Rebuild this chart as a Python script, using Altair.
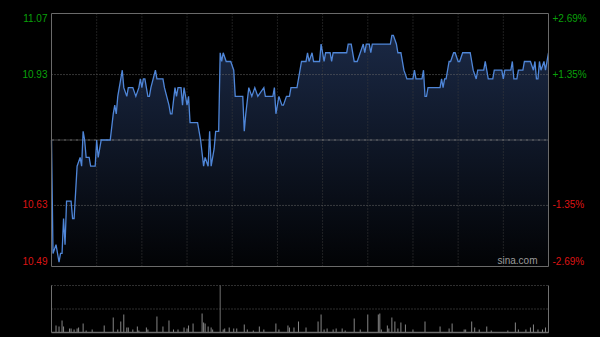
import altair as alt
import pandas as pd

# ---- data ----
minutes = [0, 1, 3, 4, 5, 6, 7, 8, 9, 10,
           13, 14, 15, 17, 19, 20, 21, 22, 23, 25,
           26, 29, 30, 31, 33, 39, 41, 42, 43, 44,
           47, 48, 50, 51, 54, 56, 58, 59, 60, 61,
           62, 64, 65, 66, 69, 70, 74, 75, 78, 79,
           80, 82, 83, 84, 86, 87, 88, 90, 91, 92,
           97, 99, 101, 102, 104, 105, 106, 108, 109, 111,
           112, 113, 114, 116, 119, 121, 122, 127, 128, 129,
           131, 133, 135, 137, 141, 142, 147, 148, 149, 151,
           153, 154, 156, 158, 159, 163, 165, 166, 169, 170,
           171, 173, 174, 178, 179, 181, 182, 185, 186, 187,
           196, 197, 199, 201, 203, 207, 208, 209, 211, 212,
           213, 225, 226, 227, 229, 230, 232, 234, 236, 240,
           241, 242, 246, 247, 248, 249, 250, 258, 259, 260,
           261, 262, 264, 265, 267, 268, 270, 271, 273, 278,
           280, 282, 283, 287, 288, 290, 293, 294, 299, 300,
           301, 305, 306, 307, 309, 310, 313, 314, 318, 320,
           321, 322, 323, 324, 325, 327, 328, 329, 330]
prices = [10.78, 10.52, 10.54, 10.52, 10.50, 10.52, 10.52, 10.60, 10.54, 10.64,
          10.64, 10.60, 10.60, 10.72, 10.74, 10.72, 10.80, 10.78, 10.74, 10.74,
          10.72, 10.72, 10.78, 10.74, 10.78, 10.78, 10.84, 10.86, 10.84, 10.88,
          10.94, 10.90, 10.88, 10.90, 10.90, 10.88, 10.90, 10.92, 10.90, 10.92,
          10.92, 10.88, 10.88, 10.90, 10.94, 10.92, 10.92, 10.90, 10.86, 10.84,
          10.84, 10.90, 10.88, 10.90, 10.90, 10.86, 10.90, 10.86, 10.88, 10.82,
          10.82, 10.78, 10.72, 10.74, 10.72, 10.80, 10.72, 10.76, 10.80, 10.80,
          10.98, 10.96, 10.98, 10.96, 10.96, 10.94, 10.88, 10.88, 10.80, 10.84,
          10.90, 10.88, 10.90, 10.88, 10.90, 10.88, 10.88, 10.90, 10.84, 10.88,
          10.86, 10.86, 10.88, 10.88, 10.90, 10.90, 10.94, 10.96, 10.96, 10.98,
          10.96, 10.98, 10.96, 10.96, 11.00, 10.96, 10.98, 10.98, 10.96, 10.98,
          10.98, 11.00, 11.00, 10.96, 10.96, 11.00, 10.98, 11.00, 11.00, 10.98,
          11.00, 11.00, 11.02, 11.02, 11.00, 10.98, 10.98, 10.94, 10.92, 10.92,
          10.94, 10.92, 10.92, 10.94, 10.88, 10.88, 10.90, 10.90, 10.92, 10.90,
          10.92, 10.92, 10.96, 10.96, 10.98, 10.98, 10.96, 10.96, 10.98, 10.98,
          10.94, 10.92, 10.94, 10.94, 10.96, 10.92, 10.92, 10.94, 10.94, 10.92,
          10.94, 10.94, 10.96, 10.92, 10.92, 10.94, 10.94, 10.96, 10.96, 10.94,
          10.96, 10.92, 10.92, 10.96, 10.94, 10.96, 10.94, 10.96, 10.98]

vol_minutes = [3, 5, 7, 8, 12, 13, 15, 17, 18, 21,
               23, 27, 35, 41, 44, 46, 48, 50, 51, 54,
               57, 58, 63, 64, 70, 74, 78, 81, 84, 88,
               90, 91, 94, 100, 101, 102, 104, 106, 107, 114,
               115, 118, 121, 123, 128, 130, 134, 138, 141, 149,
               151, 157, 158, 161, 164, 169, 177, 179, 181, 183,
               187, 189, 193, 195, 201, 205, 210, 217, 218, 219,
               223, 224, 226, 228, 230, 232, 235, 240, 248, 258,
               264, 266, 274, 275, 279, 281, 284, 289, 292, 303,
               308, 310, 315, 318, 320, 323, 326, 328, 330]
vol_values = [7, 6, 12, 6, 4, 4, 3, 4, 5, 9,
              2, 3, 7, 15, 3, 11, 18, 5, 5, 3,
              6, 2, 5, 3, 16, 6, 12, 3, 3, 5,
              4, 7, 9, 19, 10, 9, 6, 5, 3, 3,
              4, 5, 4, 4, 8, 3, 2, 6, 3, 9,
              3, 7, 5, 5, 11, 5, 11, 18, 3, 4,
              3, 4, 4, 2, 14, 3, 18, 18, 19, 3,
              7, 4, 15, 11, 4, 10, 8, 3, 11, 6,
              4, 9, 3, 3, 11, 5, 3, 6, 2, 2,
              10, 3, 3, 5, 8, 3, 3, 5, 12]

grid_minutes = [30, 60, 90, 120, 150, 180, 210, 240, 270, 300]
session_break = 112
prev_close = 10.78
price_min, price_max = 10.49, 11.07
label_prices = [11.07, 10.93, 10.63, 10.49]
left_labels = ["11.07", "10.93", "10.63", "10.49"]
right_labels = ["+2.69%", "+1.35%", "-1.35%", "-2.69%"]
vol_max = 47

# ---- scales ----
X = alt.Scale(domain=[0, 330], range=[51.5, 548.5])
PY = alt.Scale(domain=[price_min, price_max], range=[266.5, 13.5])
VY = alt.Scale(domain=[0, vol_max], range=[332.5, 285.5])

price_df = pd.DataFrame({"t": minutes, "p": prices})
vol_df = pd.DataFrame({"t": vol_minutes, "v": vol_values})
grid_df = pd.DataFrame({"t": grid_minutes})
labels_df = pd.DataFrame({"p": label_prices, "left": left_labels, "right": right_labels})

FONT = "Liberation Sans"

def px(field="t"):
    return alt.X(f"{field}:Q", scale=X, axis=None)

def xd(v):
    return alt.XDatum(datum=v, scale=X, type="quantitative", axis=None)

def pyd(v):
    return alt.YDatum(datum=v, scale=PY, type="quantitative", axis=None)

def vyd(v):
    return alt.YDatum(datum=v, scale=VY, type="quantitative", axis=None)

grad = alt.Gradient(
    gradient="linear",
    stops=[alt.GradientStop(color="#1a2844", offset=0),
           alt.GradientStop(color="#020305", offset=1)],
    x1=1, x2=1, y1=0, y2=1)

area = alt.Chart(price_df).mark_area(color=grad).encode(
    x=px(), y=alt.Y("p:Q", scale=PY, axis=None), y2=alt.Y2(datum=price_min))

vgrid = alt.Chart(grid_df).mark_rule(color="#3e3e3e", strokeDash=[1, 2], strokeWidth=1).encode(
    x=px(), y=pyd(price_max), y2=alt.Y2(datum=price_min))

hgrid = alt.Chart(pd.DataFrame({"p": [label_prices[1], label_prices[2]]})).mark_rule(
    color="#6a6a6a", strokeDash=[1, 2], strokeWidth=1).encode(
    x=xd(0), x2=alt.X2(datum=330), y=alt.Y("p:Q", scale=PY, axis=None))

mid = alt.Chart(pd.DataFrame({"p": [prev_close]})).mark_rule(
    color="#808080", strokeDash=[3, 1, 1, 1], strokeWidth=1).encode(
    x=xd(0), x2=alt.X2(datum=330), y=alt.Y("p:Q", scale=PY, axis=None))

frame = alt.Chart(pd.DataFrame({"a": [0]})).mark_rect(
    filled=False, color="#6a6a6a", strokeWidth=1).encode(
    x=xd(0), x2=alt.X2(datum=330), y=pyd(price_max), y2=alt.Y2(datum=price_min))

line = alt.Chart(price_df).mark_line(color="#4f86d8", strokeWidth=1.3).encode(
    x=px(), y=alt.Y("p:Q", scale=PY, axis=None))

# ---- volume panel ----
vbars = alt.Chart(vol_df).mark_rule(color="#858585", strokeWidth=1).encode(
    x=px(), y=alt.Y("v:Q", scale=VY, axis=None), y2=alt.Y2(datum=0))

vdots = alt.Chart(pd.DataFrame({"v": [vol_max, vol_max / 2]})).mark_rule(
    color="#5e5e5e", strokeDash=[1, 2], strokeWidth=1).encode(
    x=xd(0), x2=alt.X2(datum=330), y=alt.Y("v:Q", scale=VY, axis=None))

vbottom = alt.Chart(pd.DataFrame({"v": [0]})).mark_rule(
    color="#6e6e6e", strokeWidth=1.5).encode(
    x=xd(0), x2=alt.X2(datum=330), y=alt.Y("v:Q", scale=VY, axis=None))

vsides = alt.Chart(pd.DataFrame({"t": [0, session_break, 330]})).mark_rule(
    color="#707070", strokeWidth=1).encode(
    x=px(), y=vyd(vol_max), y2=alt.Y2(datum=0))

# ---- labels ----
def label_layer(idx, col, color, baseline, align, xpos, dx):
    sub = labels_df.iloc[idx]
    return alt.Chart(sub).mark_text(
        font=FONT, fontSize=10, color=color, baseline=baseline, align=align, dx=dx).encode(
        x=xd(xpos), y=alt.Y("p:Q", scale=PY, axis=None), text=f"{col}:N")

GREEN = "#0aa00a"
RED = "#dd1414"
labels = [
    label_layer([0], "left", GREEN, "top", "right", 0, -4),
    label_layer([1], "left", GREEN, "middle", "right", 0, -4),
    label_layer([2], "left", RED, "middle", "right", 0, -4),
    label_layer([3], "left", RED, "bottom", "right", 0, -4),
    label_layer([0], "right", GREEN, "top", "left", 330, 4),
    label_layer([1], "right", GREEN, "middle", "left", 330, 4),
    label_layer([2], "right", RED, "middle", "left", 330, 4),
    label_layer([3], "right", RED, "bottom", "left", 330, 4),
]

watermark = alt.Chart(pd.DataFrame({"s": ["sina.com"]})).mark_text(
    font=FONT, fontSize=10, color="#9a9a9a", align="right", baseline="bottom", dx=-11, dy=-1).encode(
    x=xd(330), y=pyd(price_min), text="s:N")

chart = alt.layer(
    area, vgrid, hgrid, mid, line, frame,
    vbars, vdots, vbottom, vsides,
    *labels, watermark
).resolve_scale(y="independent").properties(
    width=600, height=337, background="#000000", padding=0,
    autosize=alt.AutoSizeParams(type="none")
).configure_view(stroke=None)

chart.save("out.html", embed_options={"renderer": "svg", "actions": False})
